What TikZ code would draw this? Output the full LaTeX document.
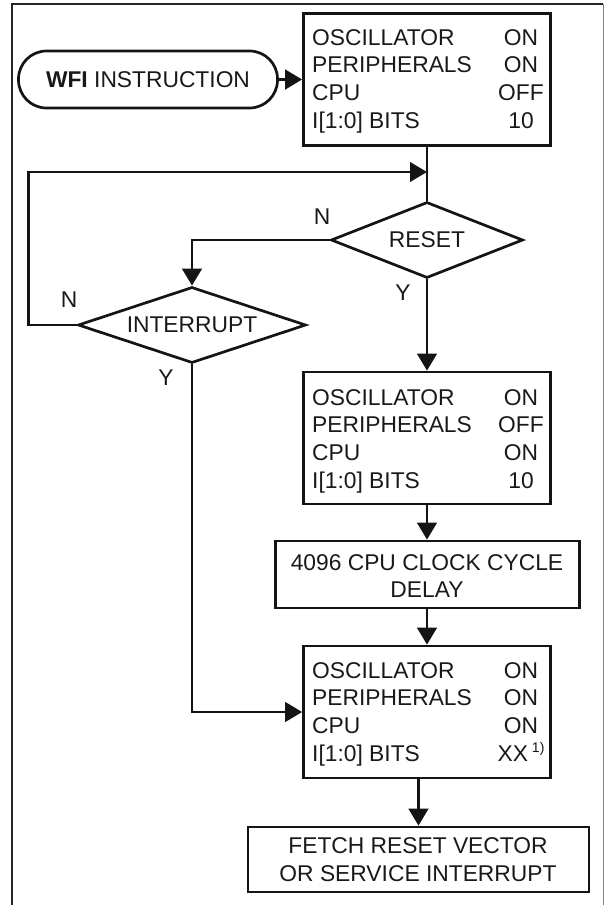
\documentclass[tikz,border=0pt]{standalone}
\usepackage{fontspec}
\setmainfont{Liberation Sans}
\usetikzlibrary{arrows.meta,shapes.geometric,calc}
\tikzset{
  ln/.style={line width=2.7pt, draw=black!92},
  statebox/.style={ln, rectangle, inner sep=0pt, minimum width=247pt, minimum height=132pt},
  plainbox/.style={ln, rectangle, inner sep=0pt},
  decision/.style={ln, diamond, aspect=3, inner sep=0pt},
  arr/.style={ln, -{Triangle[length=17pt,width=19.5pt]}},
  txt/.style={inner sep=0pt, text=black!90, font=\fontsize{22.8}{27.7}\selectfont},
}
\newcommand\staterows[6]{%
  \node[txt,anchor=base west] (#1a) at (312,#2) {OSCILLATOR};
  \node[txt,anchor=base] (#1b) at (521,#2) {#3};
  \node[txt,anchor=base west] (#1c) at (312,{#2+27.7}) {PERIPHERALS};
  \node[txt,anchor=base] (#1d) at (521,{#2+27.7}) {#4};
  \node[txt,anchor=base west] (#1e) at (312,{#2+55.4}) {CPU};
  \node[txt,anchor=base] (#1f) at (521,{#2+55.4}) {#5};
  \node[txt,anchor=base west] (#1g) at (312,{#2+83.1}) {I[1:0] BITS};
  \node[txt,anchor=base] (#1h) at (521,{#2+83.1}) {#6};
}
\begin{document}
\begin{tikzpicture}[x=1pt,y=-1pt]
\useasboundingbox (0,0) rectangle (605,905);
% frame
\draw[line width=2.2pt, black!85] (12.3,905) -- (12.3,4) -- (603.3,4);
\draw[line width=1.4pt, black!50] (603.3,4) -- (603.3,905);

% nodes
\node[ln, rectangle, rounded corners=28pt, minimum width=259pt, minimum height=57pt, inner sep=0pt,
      txt] (wfi) at (148,79.5) {\textbf{WFI} INSTRUCTION};
\node[statebox] (b1) at (427,79.5) {};
\staterows{s1}{45}{ON}{ON}{OFF}{10}
\node[decision, minimum width=192pt, minimum height=76pt, txt] (rst) at (427,240) {RESET};
\node[decision, minimum width=228pt, minimum height=76pt, txt] (int) at (192,325) {INTERRUPT};
\node[statebox] (b2) at (427,438) {};
\staterows{s2}{405}{ON}{OFF}{ON}{10}
\node[plainbox, minimum width=303.5pt, minimum height=67pt] (b3) at (427.5,574.5) {};
\node[txt, align=center] (b3t) at (427,576) {4096 CPU CLOCK CYCLE\\DELAY};
\node[statebox] (b4) at (427,712) {};
\staterows{s4}{678}{ON}{ON}{ON}{XX\hspace{4pt}\raisebox{9pt}{\fontsize{14}{14}\selectfont 1)}}
\node[plainbox, minimum width=341pt, minimum height=65pt] (b5) at (418.5,859.5) {};
\node[txt, align=center] (b5t) at (418,859.5) {FETCH RESET VECTOR\\OR SERVICE INTERRUPT};

% labels
\node[txt] (nrst) at (322,217) {N};
\node[txt] (yrst) at (403,293) {Y};
\node[txt] (nint) at (69,300) {N};
\node[txt] (yint) at (166,378) {Y};

% connectors
\coordinate (join) at (427,172);
\draw[arr] (wfi.east) -- (wfi.east -| b1.west);
\draw[ln] (b1.south) -- (rst.north);
\draw[arr] (int.west) -- ++(-48,0) |- (join);
\draw[arr] (rst.west) -| (int.north);
\draw[arr] (rst.south) -- (b2.north);
\draw[arr] (b2.south) -- (b2.south |- b3.north);
\draw[arr] (b3.south -| b4.north) -- (b4.north);
\draw[arr] (int.south) |- (b4.west);
\draw[arr] (b4.south -| b5.north) -- (b5.north);
\end{tikzpicture}
\end{document}
